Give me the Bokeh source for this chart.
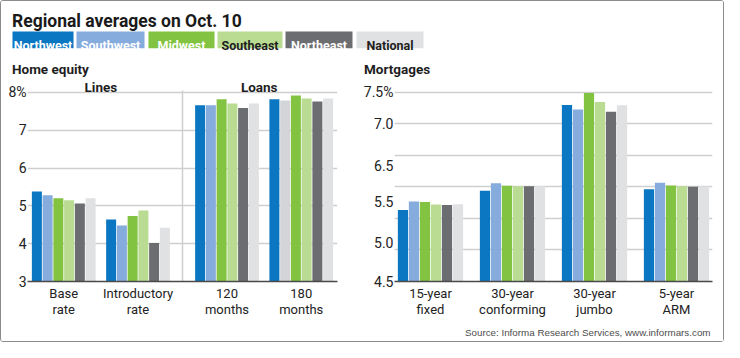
from bokeh.plotting import figure
from bokeh.models import FactorRange, Range1d, FixedTicker, Label, Title, ColumnDataSource
from bokeh.transform import dodge
from bokeh.layouts import column, row
from bokeh.core.properties import value
from bokeh.embed import file_html
from bokeh.resources import INLINE

# ---------------- data ----------------
regions = ["Northwest", "Southwest", "Midwest", "Southeast", "Northeast", "National"]

equity_sections = ["Lines", "Lines", "Loans", "Loans"]
equity_categories = ["Base\nrate", "Introductory\nrate", "120\nmonths", "180\nmonths"]
northwest_equity = [5.38, 4.64, 7.66, 7.82]
southwest_equity = [5.28, 4.48, 7.66, 7.79]
midwest_equity = [5.20, 4.73, 7.82, 7.92]
southeast_equity = [5.15, 4.88, 7.71, 7.84]
northeast_equity = [5.06, 4.02, 7.59, 7.76]
national_equity = [5.20, 4.42, 7.71, 7.84]

mortgage_categories = ["15-year\nfixed", "30-year\nconforming", "30-year\njumbo", "5-year\nARM"]
northwest_mortgage = [5.635, 5.94, 7.30, 5.965]
southwest_mortgage = [5.77, 6.06, 7.23, 6.065]
midwest_mortgage = [5.76, 6.02, 7.49, 6.025]
southeast_mortgage = [5.72, 6.01, 7.35, 6.01]
northeast_mortgage = [5.715, 6.01, 7.195, 6.005]
national_mortgage = [5.725, 6.01, 7.295, 6.01]

equity_ticks = [3, 4, 5, 6, 7, 8]
equity_tick_labels = ["3", "4", "5", "6", "7", "8%"]
mortgage_grid = [4.5, 5.0, 5.5, 6.0, 6.5, 7.0, 7.5]
mortgage_label_ticks = [7.5, 7.0, 6.34, 5.755, 5.105, 4.5]
mortgage_tick_labels = ["7.5%", "7.0", "6.5", "5.5", "5.0", "4.5"]

title_text = "Regional averages on Oct. 10"
source_text = "Source: Informa Research Services, www.informars.com"

# ---------------- styles ----------------
FONT = "Roboto"
region_colors = ["#0b76c1", "#86abdd", "#82c341", "#b9dc92", "#6c6d70", "#e0e1e3"]
legend_text_colors = ["white", "white", "white", "#1e1e1e", "white", "#1e1e1e"]
odd_bar_color = "#d3d5d8"   # the 180-month Southwest bar is drawn grey in the original
GRID = "#cfcfcf"
BASE = "#4a4a4a"
INK = "#1e1e1e"

equity_series = [northwest_equity, southwest_equity, midwest_equity,
                 southeast_equity, northeast_equity, national_equity]
mortgage_series = [northwest_mortgage, southwest_mortgage, midwest_mortgage,
                   southeast_mortgage, northeast_mortgage, national_mortgage]

W = 722
H_HEAD, H_PANEL = 77, 263
TOP_PAD, BOTTOM_PAD = 1, 59
GRID_SPAN_PX = 190      # pixels between lowest and highest grid line
HEADROOM_PX = 13        # room above the top grid line for the section headings

def base_fig(**kw):
    p = figure(toolbar_location=None, output_backend="svg", **kw)
    p.outline_line_color = None
    p.background_fill_color = "white"
    p.border_fill_color = "white"
    return p

# ---------------- header ----------------
head = base_fig(width=W, height=H_HEAD, x_range=Range1d(0, W), y_range=Range1d(H_HEAD, 0),
                min_border=0)
head.axis.visible = False
head.grid.visible = False
head.add_layout(Label(x=10.5, y=19.8, text=title_text, text_font=FONT, text_font_style="bold",
                      text_font_size="17.5px", text_color="#1a1a1a", text_baseline="alphabetic"))
leg_left = [11, 75, 147, 216, 284, 355]
leg_right = [72, 143, 213, 281, 351, 422]
leg_src = ColumnDataSource(dict(left=leg_left, right=leg_right, color=region_colors,
                                name=regions, tc=legend_text_colors,
                                xc=[(a + b) / 2 for a, b in zip(leg_left, leg_right)]))
head.quad(left="left", right="right", top=29.9, bottom=46.8, fill_color="color",
          line_color=None, source=leg_src)
head.text(x="xc", y=43.5, text="name", text_color="tc", text_font=value(FONT),
          text_font_style="bold", text_font_size="12.5px", text_align="center",
          text_baseline="alphabetic", source=leg_src)
for x, t in [(10.5, "Home equity"), (362.5, "Mortgages")]:
    head.add_layout(Label(x=x, y=67, text=t, text_font=FONT, text_font_style="bold",
                          text_font_size="13.5px", text_color=INK, text_baseline="alphabetic"))

# ---------------- left panel (home equity) ----------------
eq_factors = list(zip(equity_sections, equity_categories))
FP_L, GP_L, RP_L = 0.152, 0.38, 0.062
eq_lo, eq_hi = equity_ticks[0], equity_ticks[-1]
eq_top = eq_hi + (eq_hi - eq_lo) * HEADROOM_PX / GRID_SPAN_PX
left = base_fig(width=356, height=H_PANEL,
                x_range=FactorRange(*eq_factors, factor_padding=FP_L, group_padding=GP_L,
                                    range_padding=RP_L, range_padding_units="absolute"),
                y_range=Range1d(eq_lo, eq_top),
                min_border_left=26, min_border_right=20,
                min_border_top=TOP_PAD, min_border_bottom=BOTTOM_PAD)

PITCH = 1 / 6
BW = 0.155
for i, (name, vals) in enumerate(zip(regions, equity_series)):
    cols = [region_colors[i]] * len(vals)
    if name == "Southwest":
        cols[3] = odd_bar_color
    src = ColumnDataSource(dict(x=eq_factors, top=vals, color=cols))
    left.vbar(x=dodge("x", (i - 2.5) * PITCH, range=left.x_range), top="top", bottom=eq_lo,
              width=BW, fill_color="color", line_color=None, source=src)

# separator between the two sections, and section headings centred over them
sep_x = 2 + FP_L + GP_L / 2
left.segment(x0=sep_x, x1=sep_x, y0=eq_lo, y1=eq_hi + (eq_hi - eq_lo) * 2 / GRID_SPAN_PX,
             line_color=GRID, line_width=1.5)
for xc, t in [(1 + FP_L / 2, "Lines"), (3 + FP_L + GP_L, "Loans")]:
    left.add_layout(Label(x=xc, y=eq_hi, y_offset=5, text=t, text_font=FONT,
                          text_font_style="bold", text_font_size="13.5px", text_color=INK,
                          text_align="center", text_baseline="alphabetic"))

# ---------------- right panel (mortgages) ----------------
FP_R, RP_R = 0.242, 0.045
mo_lo, mo_hi = mortgage_grid[0], mortgage_grid[-1]
mo_top = mo_hi + (mo_hi - mo_lo) * HEADROOM_PX / GRID_SPAN_PX
right = base_fig(width=366, height=H_PANEL,
                 x_range=FactorRange(*mortgage_categories, factor_padding=FP_R,
                                     range_padding=RP_R, range_padding_units="absolute"),
                 y_range=Range1d(mo_lo, mo_top),
                 min_border_left=37, min_border_right=11,
                 min_border_top=TOP_PAD, min_border_bottom=BOTTOM_PAD)
for i, (name, vals) in enumerate(zip(regions, mortgage_series)):
    src = ColumnDataSource(dict(x=mortgage_categories, top=vals))
    right.vbar(x=dodge("x", (i - 2.5) * PITCH, range=right.x_range), top="top", bottom=mo_lo,
               width=BW, fill_color=region_colors[i], line_color=None, source=src)

right.add_layout(Title(text=source_text, align="right", text_font="Liberation Sans",
                       text_font_size="9.8px", text_font_style="normal", text_color="#4d4d4d",
                       standoff=8, offset=2), "below")

# ---------------- axes styling ----------------
for p in (left, right):
    p.xgrid.visible = False
    p.ygrid.grid_line_color = GRID
    p.ygrid.grid_line_width = 1.5
    xa = p.xaxis[0]
    xa.axis_line_color = BASE
    xa.axis_line_width = 1.5
    xa.major_tick_line_color = None
    xa.minor_tick_line_color = None
    xa.major_tick_out = 0
    xa.major_tick_in = 0
    xa.major_label_text_font = FONT
    xa.major_label_text_font_size = "13px"
    xa.major_label_text_color = "#222222"
    xa.major_label_text_line_height = 1.1
    xa.major_label_standoff = 4
    ya = p.yaxis[0]
    ya.axis_line_color = None
    ya.major_tick_line_color = None
    ya.minor_tick_line_color = None
    ya.major_tick_out = 0
    ya.major_tick_in = 0
    ya.major_label_text_font = FONT
    ya.major_label_text_font_size = "14px"
    ya.major_label_text_color = "#222222"
    ya.major_label_standoff = 1

lx = left.xaxis[0]
lx.group_text_color = None
lx.group_text_font_size = "1px"
lx.separator_line_color = None
left.yaxis[0].ticker = FixedTicker(ticks=equity_ticks)
left.yaxis[0].major_label_overrides = dict(zip([float(t) for t in equity_ticks], equity_tick_labels))
left.ygrid[0].ticker = FixedTicker(ticks=equity_ticks)

right.yaxis[0].ticker = FixedTicker(ticks=mortgage_label_ticks)
right.yaxis[0].major_label_overrides = dict(zip(mortgage_label_ticks, mortgage_tick_labels))
right.ygrid[0].ticker = FixedTicker(ticks=mortgage_grid)

layout = column(head, row(left, right),
                styles={"border": "1px solid #8c8c8c", "border-radius": "3px"})

open("out.html", "w").write(file_html(layout, INLINE))
